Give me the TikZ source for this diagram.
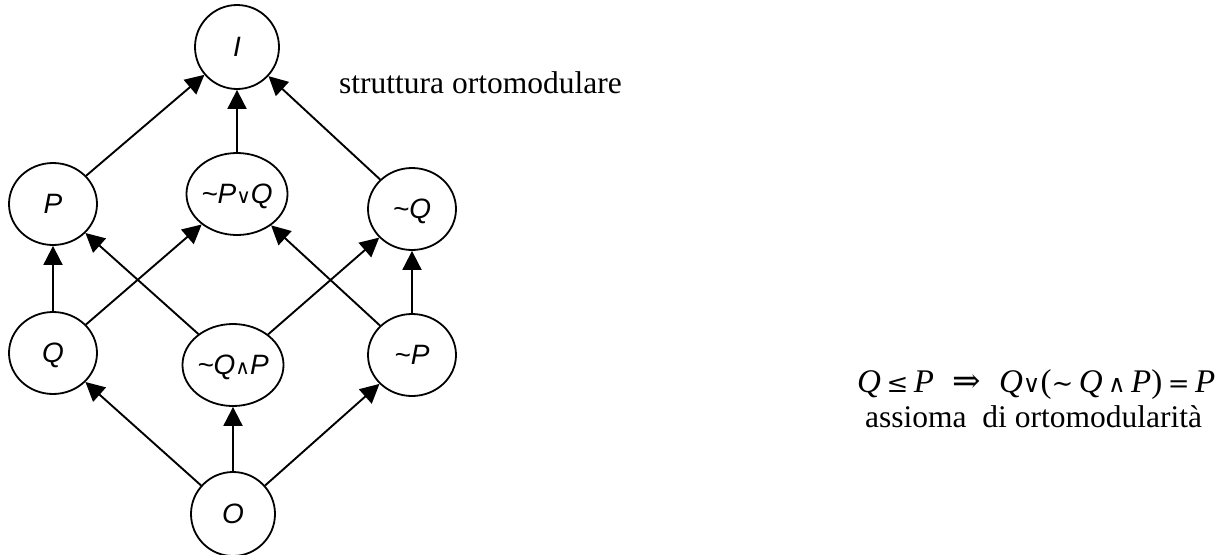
\documentclass[tikz,border=0pt]{standalone}
\usepackage{fontspec}
\setmainfont{Liberation Serif}
\newfontfamily\arialfont{Liberation Sans}
\newfontfamily\opfont{DejaVu Sans}
\newfontfamily\relfont{DejaVu Serif}
\usetikzlibrary{shapes.geometric,arrows.meta}

% small upright lattice operators inside the node labels
\newcommand{\joinop}{{\opfont\upshape\fontsize{20}{20}\selectfont ∨}}
\newcommand{\meetop}{{\opfont\upshape\fontsize{20}{20}\selectfont ∧}}
\newcommand{\compl}{\textasciitilde}
% symbols of the ortomodular law
\newcommand{\rsym}[2][26]{{\relfont\upshape\fontsize{#1}{30}\selectfont #2}}

\begin{document}
\begin{tikzpicture}[x=1pt,y=-1pt,
  state/.style={ellipse,draw,line width=1.8pt,minimum width=88pt,
    minimum height=82pt,inner sep=0pt,text height=19pt,text depth=0pt,
    font=\arialfont\itshape\fontsize{28}{30}\selectfont},
  edge/.style={line width=1.9pt,-{Triangle[length=19pt,width=19pt]}},
  caption/.style={anchor=base west,inner sep=0pt,
    font=\fontsize{31.5}{36}\selectfont}]
\useasboundingbox (0,0) rectangle (1230,554);

% lattice elements
\node[state,minimum width=84pt,minimum height=84pt] (I) at (237,47) {I};
\node[state] (P)   at (53,204)  {P};
\node[state] (NPQ) at (237,194) {\compl P\joinop Q};
\node[state] (NQ)  at (412,209) {\compl Q};
\node[state] (Q)   at (53,353)  {Q};
\node[state] (NQP) at (233,365) {\compl Q\meetop P};
\node[state] (NP)  at (412,355) {\compl P};
\node[state,minimum width=84pt,minimum height=84pt] (O) at (233,514) {O};

% order relations
\draw[edge] (P) -- (I);
\draw[edge] (NPQ) -- (I);
\draw[edge] (NQ) -- (I);
\draw[edge] (Q) -- (P);
\draw[edge] (NQP) -- (P);
\draw[edge] (Q) -- (NPQ);
\draw[edge] (NP) -- (NPQ);
\draw[edge] (NQP) -- (NQ);
\draw[edge] (NP) -- (NQ);
\draw[edge] (O) -- (Q);
\draw[edge] (O) -- (NQP);
\draw[edge] (O) -- (NP);

% captions
\node[caption] (title) at (339,93) {struttura ortomodulare};
\node[caption,font=\fontsize{33}{36}\selectfont] (law) at (857,392)
  {\textit{Q}\,\rsym{≤}\,\textit{P}\;\;\rsym[34]{⇒}\;\;\textit{Q}\rsym[24]{∨}(\rsym{∼}\,\textit{Q}\,\rsym[24]{∧}\,\textit{P})\,\rsym{=}\,\textit{P}};
\node[caption] (axiom) at (865,427) {assioma\ \ di ortomodularità};
\end{tikzpicture}
\end{document}
